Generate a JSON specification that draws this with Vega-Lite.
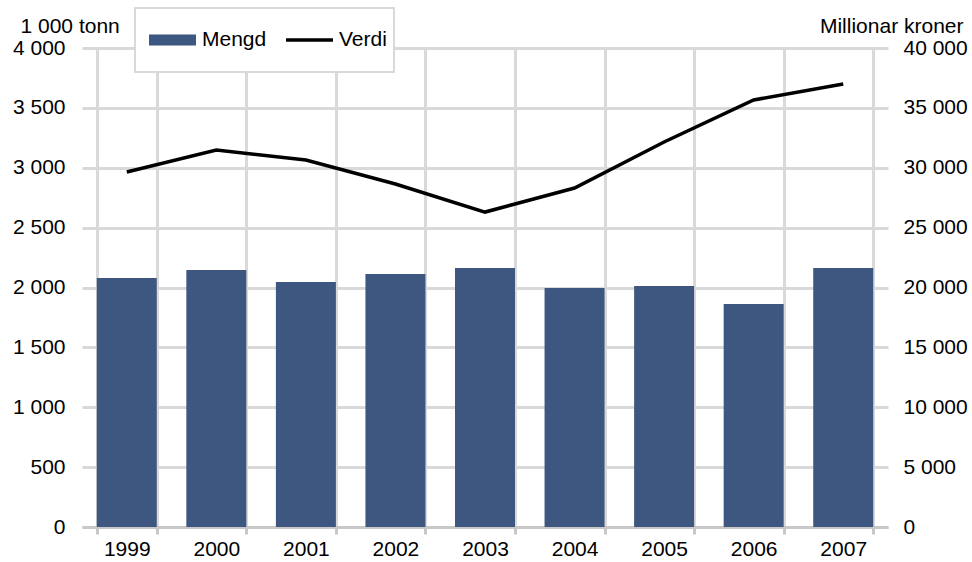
{
  "$schema": "https://vega.github.io/schema/vega-lite/v6.json",
  "width": 806,
  "height": 479,
  "autosize": {"type": "none"},
  "padding": {"left": 82, "top": 48, "right": 84, "bottom": 35},
  "background": "white",
  "config": {
    "font": "Liberation Sans",
    "view": {"stroke": null},
    "axis": {"labelColor": "black", "titleColor": "black", "labelFontSize": 21, "titleFontSize": 21, "titleFontWeight": "normal"}
  },
  "data": {
    "values": [
      {"year": "1999", "mengd": 2079, "verdi": 29650},
      {"year": "2000", "mengd": 2146, "verdi": 31480},
      {"year": "2001", "mengd": 2046, "verdi": 30650},
      {"year": "2002", "mengd": 2113, "verdi": 28640},
      {"year": "2003", "mengd": 2163, "verdi": 26300},
      {"year": "2004", "mengd": 1996, "verdi": 28310},
      {"year": "2005", "mengd": 2013, "verdi": 32150},
      {"year": "2006", "mengd": 1862, "verdi": 35660},
      {"year": "2007", "mengd": 2163, "verdi": 36990}
    ]
  },
  "encoding": {
    "x": {
      "field": "year",
      "type": "ordinal",
      "scale": {"paddingInner": 0.33, "paddingOuter": 0.165},
      "axis": {
        "title": null,
        "labelAngle": 0,
        "tickBand": "extent",
        "grid": true,
        "gridColor": "#D9D9D9",
        "gridWidth": 3,
        "domainColor": "#C8C8C8",
        "domainWidth": 3,
        "tickColor": "#C8C8C8",
        "tickWidth": 3,
        "tickSize": 7,
        "labelPadding": 4
      }
    }
  },
  "layer": [
    {
      "mark": {"type": "bar"},
      "encoding": {
        "y": {
          "field": "mengd",
          "type": "quantitative",
          "scale": {"domain": [0, 4000]},
          "axis": {
            "values": [0, 500, 1000, 1500, 2000, 2500, 3000, 3500, 4000],
            "labelExpr": "replace(format(datum.value, ','), ',', ' ')",
            "grid": true,
            "gridColor": "#D9D9D9",
            "gridWidth": 3,
            "domain": false,
            "ticks": false,
            "labelPadding": 17,
            "title": "1 000 tonn",
            "titleAngle": 0,
            "titleX": -62,
            "titleY": -16,
            "titleAlign": "left",
            "titleBaseline": "alphabetic"
          }
        },
        "color": {
          "datum": "Mengd",
          "type": "nominal",
          "scale": {"domain": ["Mengd", "Verdi"], "range": ["#3E5780", "#000000"]},
          "legend": {
            "orient": "none",
            "legendX": 53,
            "legendY": -40,
            "direction": "horizontal",
            "title": null,
            "fillColor": "white",
            "strokeColor": "#D9D9D9",
            "padding": 7,
            "labelFontSize": 21,
            "labelColor": "black",
            "labelOffset": 4,
            "symbolOffset": 5,
            "columnPadding": 12,
            "clipHeight": 50,
            "symbolSize": 2209,
            "encode": {
              "legend": {"update": {"strokeWidth": {"value": 2}}},
              "symbols": {
                "update": {
                  "size": {"value": 2209},
                  "shape": {"signal": "datum.value === 'Mengd' ? 'M-0.925,-0.16H0.925V0.16H-0.925Z' : 'M-1,0H1'"},
                  "fill": {"signal": "datum.value === 'Mengd' ? '#3E5780' : 'transparent'"},
                  "stroke": {"signal": "datum.value === 'Mengd' ? '#3E5780' : '#000000'"},
                  "strokeWidth": {"value": 3.5},
                  "opacity": {"value": 1}
                }
              }
            }
          }
        }
      }
    },
    {
      "mark": {"type": "line", "strokeWidth": 3.5},
      "encoding": {
        "y": {
          "field": "verdi",
          "type": "quantitative",
          "scale": {"domain": [0, 40000]},
          "axis": {
            "orient": "right",
            "values": [0, 5000, 10000, 15000, 20000, 25000, 30000, 35000, 40000],
            "labelExpr": "replace(format(datum.value, ','), ',', ' ')",
            "grid": false,
            "domain": false,
            "ticks": false,
            "labelPadding": 15,
            "title": "Millionar kroner",
            "titleAngle": 0,
            "titleX": 75,
            "titleY": -16,
            "titleAlign": "right",
            "titleBaseline": "alphabetic"
          }
        },
        "color": {"datum": "Verdi", "type": "nominal"}
      }
    }
  ],
  "resolve": {"scale": {"y": "independent"}}
}
